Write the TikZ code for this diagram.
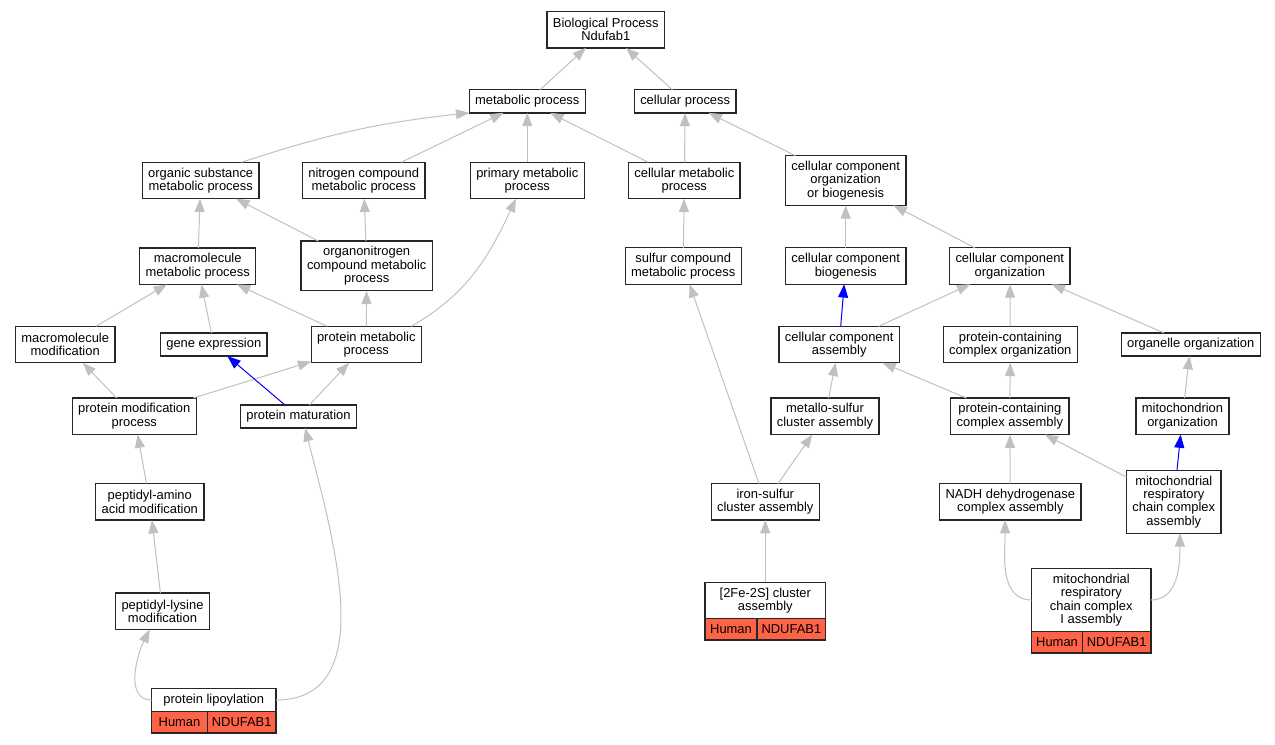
\documentclass[tikz,border=0pt]{standalone}
\usepackage{fontspec}
\setmainfont{Liberation Sans}
\usepackage{tikz}
\usetikzlibrary{arrows.meta}
\definecolor{edgegray}{RGB}{192,192,192}
\definecolor{Tomato}{RGB}{255,99,71}

\begin{document}
\begin{tikzpicture}[x=0.75pt, y=0.75pt, -{Triangle[length=10pt,width=7.5pt]}, color=edgegray, line width=0.75pt,
      every node/.append style={font=\fontsize{9.7}{10}\selectfont, text=black},
      nlines/.style={minimum height={#1*10pt+7.3pt}}]
	  \tikzstyle{term} = [draw=black!85, line width=1pt, fill=white, align=center, inner xsep=4.4pt, inner ysep=0pt, outer sep=0pt]
	  \tikzstyle{gene} = [draw=black!85, line width=1pt, fill=Tomato, minimum height=16pt, inner sep=0pt, outer sep=0pt]
	  \useasboundingbox (0,0) rectangle (1275,-744);
	  % GO terms
	  \node (go_1) [term, nlines=2] at (605.8,-29.7) {Biological Process\\Ndufab1};
	  \node (go_2) [term, nlines=1] at (527.3,-101.3) {metabolic process};
	  \node (go_3) [term, nlines=1] at (685.2,-101.3) {cellular process};
	  \node (go_4) [term, nlines=2] at (200.7,-180.5) {organic substance\\metabolic process};
	  \node (go_5) [term, nlines=2] at (363.7,-180.5) {nitrogen compound\\metabolic process};
	  \node (go_6) [term, nlines=2] at (527.3,-180.5) {primary metabolic\\process};
	  \node (go_7) [term, nlines=2] at (684.3,-180.5) {cellular metabolic\\process};
	  \node (go_8) [term, nlines=3] at (845.7,-180.5) {cellular component\\organization\\or biogenesis};
	  \node (go_9) [term, nlines=2] at (197.7,-266.2) {macromolecule\\metabolic process};
	  \node (go_10) [term, nlines=3] at (366.7,-265.9) {organonitrogen\\compound metabolic\\process};
	  \node (go_11) [term, nlines=2] at (683.2,-266) {sulfur compound\\metabolic process};
	  \node (go_12) [term, nlines=2] at (845.7,-266) {cellular component\\biogenesis};
	  \node (go_13) [term, nlines=2] at (1009.8,-266) {cellular component\\organization};
	  \node (go_14) [term, nlines=2] at (65.2,-344.5) {macromolecule\\modification};
	  \node (go_15) [term, nlines=1] at (213.8,-344.5) {gene expression};
	  \node (go_16) [term, nlines=2] at (366.3,-344.5) {protein metabolic\\process};
	  \node (go_17) [term, nlines=2] at (839.2,-344.5) {cellular component\\assembly};
	  \node (go_18) [term, nlines=2] at (1010.3,-344.5) {protein-containing\\complex organization};
	  \node (go_19) [term, nlines=1] at (1190.7,-344.5) {organelle organization};
	  \node (go_20) [term, nlines=2] at (134.3,-416.3) {protein modification\\process};
	  \node (go_21) [term, nlines=1] at (298.5,-416.5) {protein maturation};
	  \node (go_22) [term, nlines=2] at (825,-416.3) {metallo-sulfur\\cluster assembly};
	  \node (go_23) [term, nlines=2] at (1009.8,-416.3) {protein-containing\\complex assembly};
	  \node (go_24) [term, nlines=2] at (1182.5,-416.3) {mitochondrion\\organization};
	  \node (go_25) [term, nlines=2] at (149.8,-501.8) {peptidyl-amino\\acid modification};
	  \node (go_26) [term, nlines=2] at (765.3,-501.8) {iron-sulfur\\cluster assembly};
	  \node (go_27) [term, nlines=2] at (1010.3,-501.8) {NADH dehydrogenase\\complex assembly};
	  \node (go_28) [term, nlines=4] at (1173.8,-501.7) {mitochondrial\\respiratory\\chain complex\\assembly};
	  \node (go_29) [term, nlines=2] at (162.5,-611.3) {peptidyl-lysine\\modification};
	  % annotated terms
	  \node (go_30) [term, nlines=2, minimum width=90.5pt] at (765.3,-600.5) {[2Fe-2S] cluster\\assembly};
	  \node (go_30h) [gene, minimum width=39.1pt, anchor=north west] at (go_30.south west) {Human};
	  \node (go_30g) [gene, minimum width=51.4pt, anchor=north east] at (go_30.south east) {NDUFAB1};
	  \node (go_31) [term, nlines=4, minimum width=89.5pt] at (1091.3,-600) {mitochondrial\\respiratory\\chain complex\\I assembly};
	  \node (go_31h) [gene, minimum width=38.1pt, anchor=north west] at (go_31.south west) {Human};
	  \node (go_31g) [gene, minimum width=51.4pt, anchor=north east] at (go_31.south east) {NDUFAB1};
	  \node (go_32) [term, nlines=1, minimum width=93.2pt] at (213.8,-700) {protein lipoylation};
	  \node (go_32h) [gene, minimum width=41.8pt, anchor=north west] at (go_32.south west) {Human};
	  \node (go_32g) [gene, minimum width=51.4pt, anchor=north east] at (go_32.south east) {NDUFAB1};
	  % is_a edges
	  \draw (go_2) -- (go_1);
	  \draw (go_3) -- (go_1);
	  \draw (go_4.24) to[bend left=6] (go_2.south west);
	  \draw (go_5) -- (go_2);
	  \draw (go_6) -- (go_2);
	  \draw (go_7) -- (go_2);
	  \draw (go_7) -- (go_3);
	  \draw (go_8) -- (go_3);
	  \draw (go_9) -- (go_4);
	  \draw (go_10) -- (go_4);
	  \draw (go_10) -- (go_5);
	  \draw (go_11) -- (go_7);
	  \draw (go_12) -- (go_8);
	  \draw (go_13) -- (go_8);
	  \draw (go_14) -- (go_9);
	  \draw (go_15) -- (go_9);
	  \draw (go_16) -- (go_9);
	  \draw (go_16) -- (go_10);
	  \draw (go_16.22) to[out=30, in=-115] (go_6.-122);
	  \draw[blue] (go_17) -- (go_12);
	  \draw (go_17) -- (go_13);
	  \draw (go_18) -- (go_13);
	  \draw (go_19) -- (go_13);
	  \draw (go_20) -- (go_14);
	  \draw (go_20) -- (go_16);
	  \draw[blue] (go_21) -- (go_15);
	  \draw (go_21) -- (go_16);
	  \draw (go_22) -- (go_17);
	  \draw (go_23) -- (go_17);
	  \draw (go_23) -- (go_18);
	  \draw (go_24) -- (go_19);
	  \draw (go_25) -- (go_20);
	  \draw (go_26) -- (go_11);
	  \draw (go_26) -- (go_22);
	  \draw (go_27) -- (go_23);
	  \draw[blue] (go_28) -- (go_24);
	  \draw (go_28) -- (go_23);
	  \draw (go_29) -- (go_25);
	  \draw (go_30) -- (go_26);
	  \draw (go_31.west) to[out=180, in=-90] (go_27.-106);
	  \draw (go_31.east) to[out=0, in=-90] (go_28.-79);
	  \draw (go_32.west) to[out=180, in=-117] (go_29.-125);
	  \draw (go_32.east) to[out=0, in=-76] (go_21.-60);
\end{tikzpicture}
\end{document}
